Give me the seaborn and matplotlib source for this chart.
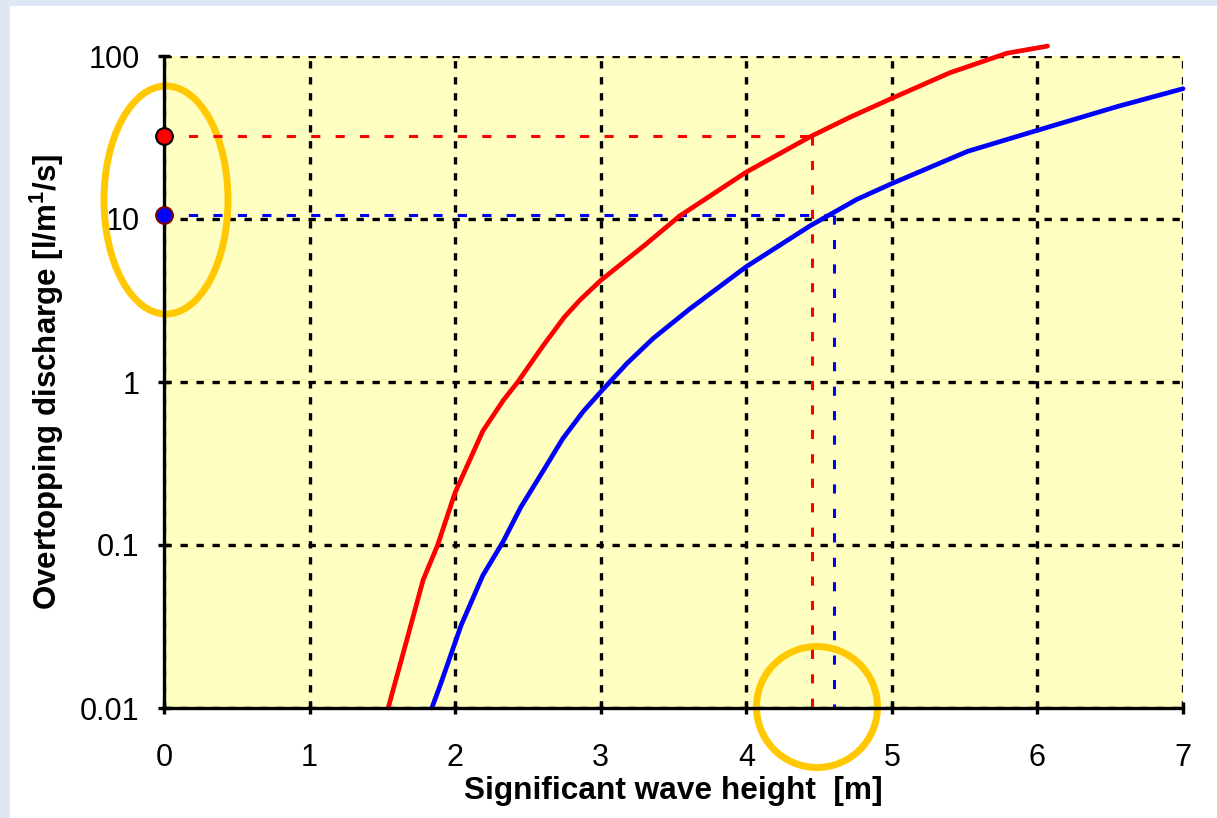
import matplotlib
matplotlib.use("Agg")
import matplotlib.pyplot as plt
from matplotlib.patches import Ellipse, Rectangle
from matplotlib.ticker import NullLocator, FixedLocator, FixedFormatter
import seaborn as sns
import pandas as pd

# ---- data ----
hs_red = [1.54, 1.645, 1.78, 1.88, 2.0, 2.19, 2.33, 2.43, 2.6, 2.75, 2.86, 3.0, 3.31, 3.54,
          4.0, 4.44, 4.71, 5.0, 5.4, 5.79, 6.07]
q_red = [0.01, 0.022, 0.061, 0.1, 0.21, 0.5, 0.77, 1.0, 1.65, 2.5, 3.2, 4.2, 7.0, 10.4,
         19.4, 32, 42, 55, 79, 104, 115]

hs_blue = [1.84, 1.90, 2.04, 2.19, 2.33, 2.45, 2.61, 2.74, 2.88, 3.0, 3.18, 3.36, 3.61,
           4.0, 4.44, 4.76, 5.0, 5.52, 6.0, 6.55, 7.0]
q_blue = [0.01, 0.014, 0.032, 0.065, 0.105, 0.17, 0.29, 0.45, 0.66, 0.87, 1.3, 1.85, 2.8,
          5.1, 9.1, 13.2, 16.5, 26, 35, 49, 63]

# design points (discharge read at Hs)
red_q, red_hs = 32.5, 4.45
blue_q, blue_hs = 10.6, 4.60

x_ticks = [0, 1, 2, 3, 4, 5, 6, 7]
y_ticks = [0.01, 0.1, 1, 10, 100]
y_tick_labels = ["0.01", "0.1", "1", "10", "100"]

sns.set_theme(style="white")
plt.rcParams["font.family"] = ["Liberation Sans", "DejaVu Sans"]
plt.rcParams["mathtext.fontset"] = "custom"
plt.rcParams["mathtext.rm"] = "Liberation Sans"
plt.rcParams["mathtext.bf"] = "Liberation Sans:bold"

fig = plt.figure(figsize=(12.17, 8.18), dpi=100)
fig.patch.set_facecolor("#dfe6f4")
# white slide panel
fig.add_artist(Rectangle((10 / 1217, 0), 1 - 10 / 1217, 1 - 6 / 818,
                         transform=fig.transFigure, facecolor="white",
                         edgecolor="none", zorder=0))

ax = fig.add_axes([164 / 1217, 1 - 708 / 818, (1183 - 164) / 1217, (708 - 56) / 818])
ax.set_facecolor("#FFFFC2")

df_red = pd.DataFrame({"Hs": hs_red, "q": q_red})
df_blue = pd.DataFrame({"Hs": hs_blue, "q": q_blue})
sns.lineplot(data=df_red, x="Hs", y="q", color="#FF0000", lw=3.4, ax=ax,
             sort=False, estimator=None, clip_on=False, zorder=4)
sns.lineplot(data=df_blue, x="Hs", y="q", color="#0000FF", lw=3.4, ax=ax,
             sort=False, estimator=None, clip_on=False, zorder=4)

ax.set_yscale("log")
ax.set_xlim(0, 7)
ax.set_ylim(0.01, 100)

# dashed reading lines
dash = (0, (3.0, 5.0))
ax.plot([0, red_hs], [red_q, red_q], color="#FF0000", lw=2.2, ls=dash, zorder=3)
ax.plot([red_hs, red_hs], [red_q, 0.01], color="#FF0000", lw=2.2, ls=dash, zorder=3,
        clip_on=False)
ax.plot([0, blue_hs], [blue_q, blue_q], color="#0000FF", lw=2.2, ls=dash, zorder=3)
ax.plot([blue_hs, blue_hs], [blue_q, 0.01], color="#0000FF", lw=2.2, ls=dash, zorder=3,
        clip_on=False)

# markers on the axis
ax.plot([0], [red_q], "o", ms=12, mfc="#FF0000", mec="black", mew=1.5,
        clip_on=False, zorder=6)
ax.plot([0], [blue_q], "o", ms=12, mfc="#0000FF", mec="#800000", mew=1.5,
        clip_on=False, zorder=6)

# ticks
ax.xaxis.set_major_locator(FixedLocator(x_ticks))
ax.yaxis.set_major_locator(FixedLocator(y_ticks))
ax.yaxis.set_major_formatter(FixedFormatter(y_tick_labels))
ax.yaxis.set_minor_locator(NullLocator())
ax.xaxis.set_minor_locator(NullLocator())
ax.tick_params(axis="both", which="major", direction="inout", length=9, width=2.4,
               color="black", labelsize=22, labelcolor="black",
               left=True, bottom=True)
ax.tick_params(axis="x", pad=21)
ax.tick_params(axis="y", pad=13)

# grid
ax.grid(True, which="major", color="black", lw=2.4, ls=(0, (2.2, 2.6)))
ax.set_axisbelow(True)

for s in ["top", "right"]:
    ax.spines[s].set_visible(False)
for s in ["left", "bottom"]:
    ax.spines[s].set_color("black")
    ax.spines[s].set_linewidth(2.4)
    ax.spines[s].set_zorder(5)

ax.set_xlabel("Significant wave height  [m]", fontsize=22.8, fontweight="bold",
              color="black", labelpad=2)
ax.set_ylabel(r"Overtopping discharge [l/m$^{\mathbf{1}}$/s]", fontsize=22.5,
              fontweight="bold", color="black", labelpad=10)

# orange highlight ellipses (figure inch coordinates, dpi=100)
e1 = Ellipse((1.66, (818 - 200) / 100), 1.24, 2.28, transform=fig.dpi_scale_trans,
             facecolor="none", edgecolor="#FFC800", lw=5, zorder=2.6, clip_on=False)
e2 = Ellipse((8.17, (818 - 707) / 100), 1.21, 1.21, transform=fig.dpi_scale_trans,
             facecolor="none", edgecolor="#FFC800", lw=5, zorder=2.6, clip_on=False)
ax.add_artist(e1)
ax.add_artist(e2)

fig.savefig("out.png", dpi=100, facecolor=fig.get_facecolor())
